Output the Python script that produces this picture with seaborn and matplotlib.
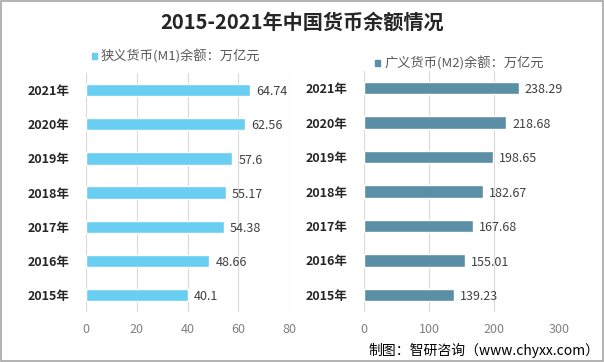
import pandas as pd
import matplotlib.pyplot as plt
import seaborn as sns
from matplotlib.patches import Rectangle

# Datos
anios = ['2015年', '2016年', '2017年', '2018年', '2019年', '2020年', '2021年']
m1 = [40.1, 48.66, 54.38, 55.17, 57.6, 62.56, 64.74]
m2 = [139.23, 155.01, 167.68, 182.67, 198.65, 218.68, 238.29]
m1_ticks = [0, 20, 40, 60, 80]
m2_ticks = [0, 100, 200, 300]

sns.set_style('white')
plt.rcParams['font.family'] = ['Noto Sans CJK SC', 'DejaVu Sans']

df = pd.DataFrame({'anio': anios, 'm1': m1, 'm2': m2})
orden = anios[::-1]

fig = plt.figure(figsize=(6.04, 3.62), dpi=100)
ax1 = fig.add_axes([0.1424, 0.1381, 0.3361, 0.6602])
ax2 = fig.add_axes([0.6026, 0.1381, 0.3229, 0.6657])

paneles = [
    (ax1, 'm1', '#6ACDF2', m1_ticks, '狭义货币(M1)余额：万亿元'),
    (ax2, 'm2', '#5B8FA6', m2_ticks, '广义货币(M2)余额：万亿元'),
]

for ax, col, color, ticks, nombre in paneles:
    sns.barplot(data=df, x=col, y='anio', order=orden, color=color,
                width=0.36, saturation=1, ax=ax)
    ax.set_xlim(ticks[0], ticks[-1])
    ax.set_ylim(6.5, -0.5)
    ax.set_xticks(ticks)
    ax.grid(axis='x', color='#D9D9D9', linewidth=0.8)
    ax.set_axisbelow(True)
    for s in ax.spines.values():
        s.set_visible(False)
    ax.set_xlabel('')
    ax.set_ylabel('')
    ax.tick_params(axis='x', length=0, labelsize=9, colors='#808080', pad=8)
    ax.tick_params(axis='y', length=0, pad=12)
    for lbl in ax.get_yticklabels():
        lbl.set_fontweight('bold')
        lbl.set_fontsize(9)
        lbl.set_color('#262626')
    for p, v in zip(ax.patches, df.set_index('anio').loc[orden, col]):
        ax.text(p.get_width() + ticks[-1] * 0.03, p.get_y() + p.get_height() / 2 + 0.05,
                str(v) if col == 'm1' else '{:.2f}'.format(v),
                va='center', ha='left', fontsize=9, color='#404040')

# Leyendas
fig.patches.append(Rectangle((92 / 604, 1 - 59 / 362), 5 / 604, 6 / 362,
                             transform=fig.transFigure, color='#6ACDF2'))
fig.text(101 / 604, 1 - 56 / 362, paneles[0][4], fontsize=9.5, color='#595959', va='center')
fig.patches.append(Rectangle((375 / 604, 1 - 66 / 362), 5 / 604, 6 / 362,
                             transform=fig.transFigure, color='#5B8FA6'))
fig.text(384 / 604, 1 - 63 / 362, paneles[1][4], fontsize=9.5, color='#595959', va='center')

fig.text(0.5, 1 - 22 / 362, '2015-2021年中国货币余额情况', ha='center', va='center',
         fontsize=14.5, fontweight='bold', color='#262626')
fig.text(599 / 604, 1 - 350 / 362, '制图：智研咨询（www.chyxx.com）', ha='right',
         va='center', fontsize=10, color='#000000')

fig.patches.append(Rectangle((0.001, 0.002), 0.997, 0.995, transform=fig.transFigure,
                             fill=False, edgecolor='#A6A6A6', linewidth=1.2))

fig.savefig('out.png', dpi=100)
plt.close()
